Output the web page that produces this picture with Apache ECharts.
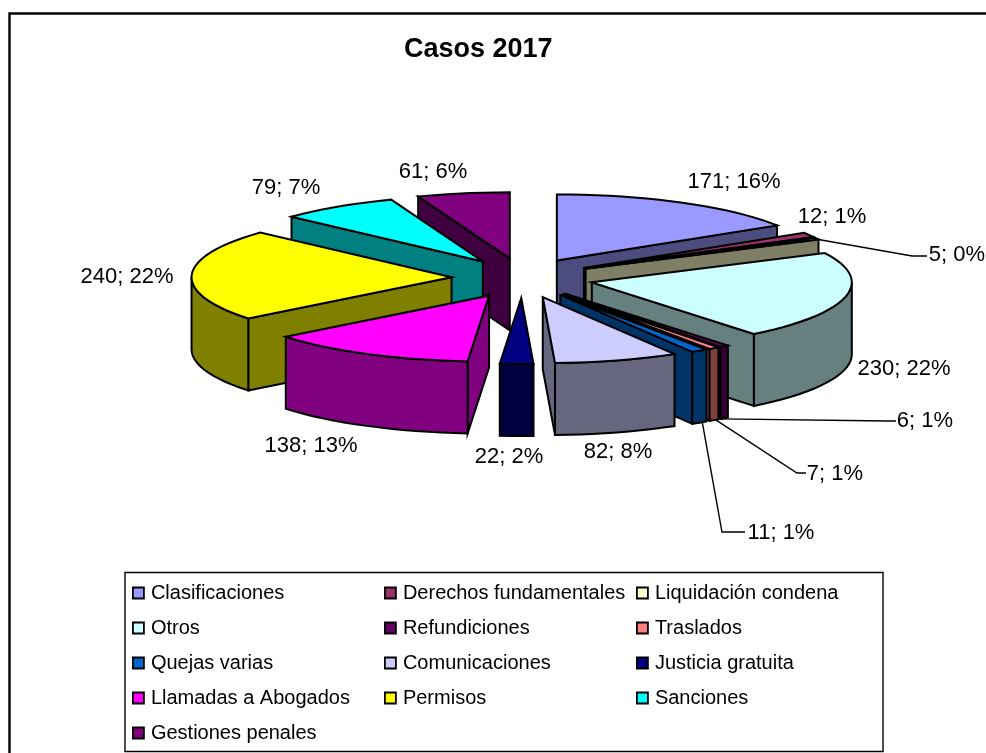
<!DOCTYPE html>
<html><head><meta charset="utf-8">
<style>html,body{margin:0;padding:0;background:#fff}#c{width:986px;height:753px}</style>
<script src="https://cdn.jsdelivr.net/npm/echarts@6/dist/echarts.min.js"></script>
</head><body><div id="c"></div>
<script>
const categories = ['Clasificaciones','Derechos fundamentales','Liquidación condena','Otros','Refundiciones','Traslados','Quejas varias','Comunicaciones','Justicia gratuita','Llamadas a Abogados','Permisos','Sanciones','Gestiones penales'];
const caseCounts = [171,12,5,230,6,7,11,82,22,138,240,79,61];
const percentLabels = ['16%','1%','0%','22%','1%','1%','1%','8%','2%','13%','22%','7%','6%'];
const topColors = ['#9999FF','#993366','#FFFFCC','#CCFFFF','#660066','#FF8080','#0066CC','#CCCCFF','#000080','#FF00FF','#FFFF00','#00FFFF','#800080'];
const wallColors = ['#4C4C7F','#4C1933','#7F7F66','#667F7F','#330033','#7F4040','#003366','#66667F','#000040','#800080','#808000','#008080','#400040'];

// Label centres and leader elbows (layout only)
const labelCentres = [[734,182],[832,217],[957,255],[904,369],[925,421],[835,474],[781,533],[618,452],[509,457],[311,446],[127,277],[286,188],[433,172]];
const leaderPaths = {2:[[912,256],[927,256]],4:[[888,421],[896,421]],5:[[797,473],[806,473]],6:[[722,532],[745,532]]};
const leaderStart = {2:{top:true,frac:1},4:{top:false,frac:1},5:{top:false,frac:.3},6:{top:false,frac:.3}};

const FONT = 'Liberation Sans, Arial, sans-serif';
const CX=522.5, CY=278, RX=260, RY=66, DEPTH=72, EX=71, EY=20, STROKE=2;
const total = caseCounts.reduce((a,b)=>a+b,0);
const rad = d => d*Math.PI/180;

const slices = []; let acc = 0;
caseCounts.forEach(v => { const s = acc/total*360; acc += v; slices.push({s, e: acc/total*360}); });

function geom(i){
  const {s,e} = slices[i], m = rad((s+e)/2);
  const tx = CX+EX*Math.sin(m), ty = CY-EY*Math.cos(m);
  const pt = d => [tx+RX*Math.sin(rad(d)), ty-RY*Math.cos(rad(d))];
  return {s,e,tx,ty,pt};
}
function arc(pt,a,b){
  const n = Math.max(2,Math.ceil((b-a)/3)), o=[];
  for(let k=0;k<=n;k++) o.push(pt(a+(b-a)*k/n));
  return o;
}
const drop = p => [p[0],p[1]+DEPTH];

function renderSlice(i){
  const g = geom(i), kids = [];
  const wall = {fill:wallColors[i],stroke:'#000',lineWidth:STROKE,lineJoin:'miter'};
  const tip=[g.tx,g.ty];
  const quad = d => {
    const p=g.pt(d);
    kids.push({type:'polygon',shape:{points:[tip,p,drop(p),drop(tip)]},style:wall});
  };
  if(Math.sin(rad(g.e))>0) quad(g.e);
  if(Math.sin(rad(g.s))<0) quad(g.s);
  const a=Math.max(g.s,90), b=Math.min(g.e,270);
  if(a<b){
    const top=arc(g.pt,a,b);
    kids.push({type:'polygon',shape:{points:top.concat(top.map(drop).reverse())},style:wall});
  }
  kids.push({type:'polygon',shape:{points:[tip].concat(arc(g.pt,g.s,g.e))},
    style:{fill:topColors[i],stroke:'#000',lineWidth:STROKE,lineJoin:'miter'}});
  if(leaderPaths[i]){
    const ls=leaderStart[i];
    let p=g.pt(g.s+(g.e-g.s)*ls.frac);
    if(!ls.top) p=drop(p);
    kids.push({type:'polyline',shape:{points:[p].concat(leaderPaths[i])},style:{fill:'none',stroke:'#000',lineWidth:1.4}});
  }
  const c=labelCentres[i];
  kids.push({type:'text',style:{text:caseCounts[i]+'; '+percentLabels[i],x:c[0],y:c[1],align:'center',verticalAlign:'middle',fontFamily:FONT,fontSize:22,fill:'#000'}});
  return {type:'group',children:kids};
}

// Painter's order: far slices first
const depthRank = slices.map((s,i)=>[Math.cos(rad((s.s+s.e)/2)),i]).sort((a,b)=>b[0]-a[0]).map(x=>x[1]);

const series = categories.map((name,i)=>({
  type:'custom',name,coordinateSystem:'none',
  z:2+depthRank.indexOf(i),
  itemStyle:{color:topColors[i]},
  data:[[caseCounts[i]]],
  silent:true,
  renderItem:()=>renderSlice(i)
}));

const legendBase = {orient:'vertical',icon:'rect',itemWidth:11,itemHeight:11,itemGap:15,padding:0,selectedMode:false,
  itemStyle:{borderColor:'#000',borderWidth:1.8},
  textStyle:{fontFamily:FONT,fontSize:20,color:'#000',lineHeight:20,padding:[0,0,0,2]}};
const pick = k => categories.filter((_,i)=>i%3===k);

const chart = echarts.init(document.getElementById('c'),null,{renderer:'canvas'});
chart.setOption({
  animation:false,
  backgroundColor:'#fff',
  title:{text:'Casos 2017',left:404,top:36,textStyle:{fontFamily:FONT,fontWeight:'bold',fontSize:27,color:'#000'},padding:0},
  legend:[
    Object.assign({},legendBase,{left:132,top:583,data:pick(0)}),
    Object.assign({},legendBase,{left:384,top:583,data:pick(1)}),
    Object.assign({},legendBase,{left:636,top:583,data:pick(2)})
  ],
  graphic:[
    {type:'rect',z:-10,silent:true,shape:{x:9.5,y:13.5,width:1000,height:800},style:{fill:'#fff',stroke:'#000',lineWidth:2.4}},
    {type:'rect',z:0,silent:true,shape:{x:125,y:572.5,width:758,height:179},style:{fill:'#fff',stroke:'#000',lineWidth:1.4}}
  ],
  series
});
</script></body></html>
